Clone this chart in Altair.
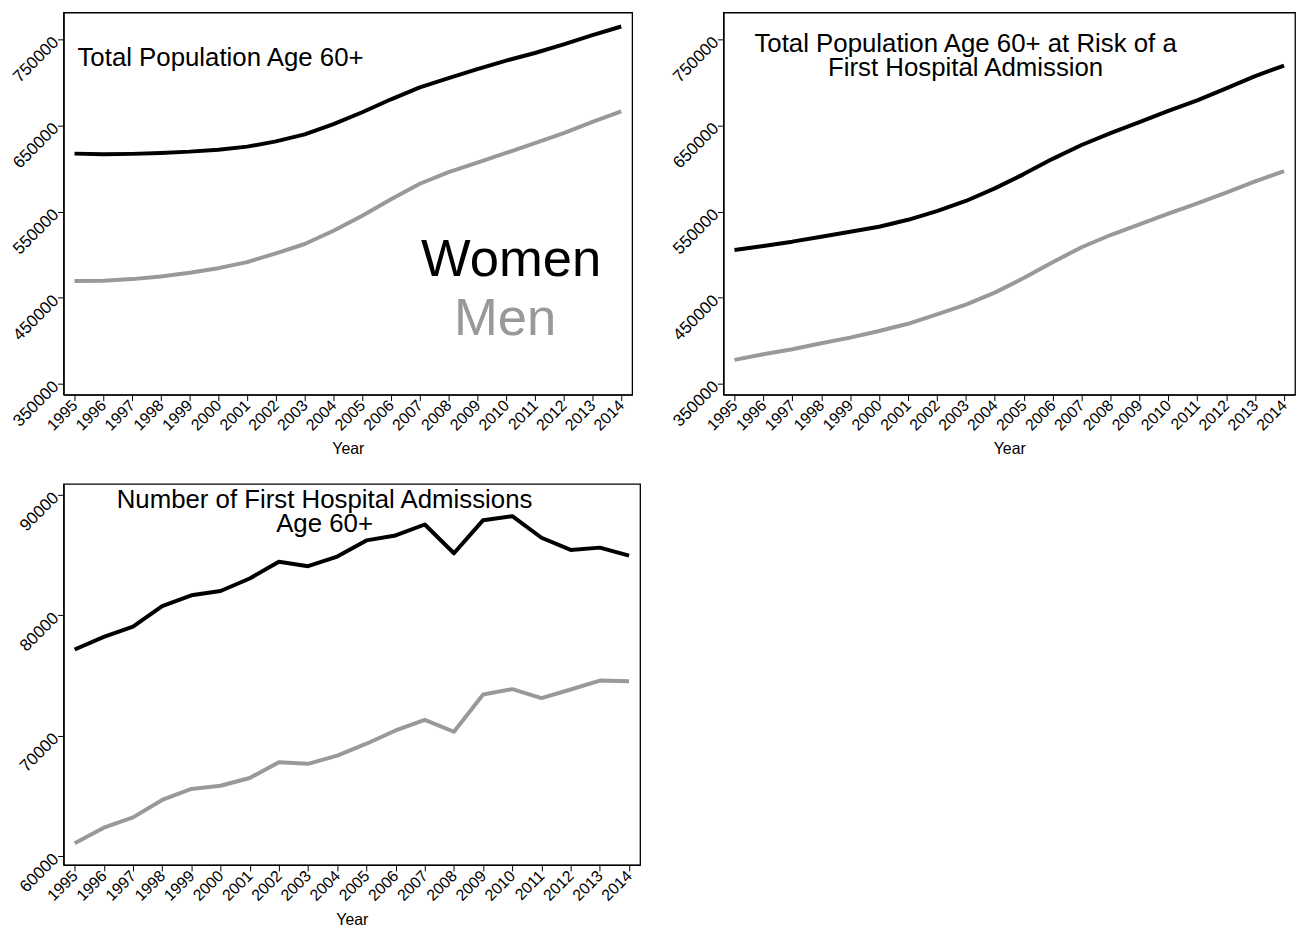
import altair as alt
import pandas as pd

years = list(range(1995, 2015))

pop_women = [617300, 616500, 617000, 618100, 619600, 621900, 625400, 631500, 639600, 651500,
             665400, 680400, 694200, 705000, 715400, 725400, 734200, 744200, 755000, 765000]
pop_men = [469200, 469600, 471500, 474600, 478800, 484200, 491200, 501500, 512300, 527700,
           545000, 564200, 582300, 595800, 606900, 618100, 629600, 641200, 654200, 666500]
risk_women = [505400, 510000, 515000, 520800, 526500, 532300, 540400, 550400, 562300, 576900,
              593500, 611200, 627300, 641200, 653800, 666900, 679200, 693100, 707300, 719600]
risk_men = [377700, 384200, 390000, 396900, 403500, 411200, 419600, 430400, 441900, 455800,
            472700, 491200, 508500, 522700, 535000, 547700, 559600, 571900, 585000, 596900]
adm_women = [77150, 78200, 79050, 80750, 81650, 82010, 83050, 84430, 84070, 84870,
             86210, 86620, 87530, 85140, 87890, 88220, 86430, 85420, 85610, 84950]
adm_men = [61070, 62360, 63210, 64660, 65570, 65840, 66480, 67790, 67660, 68340,
           69330, 70430, 71310, 70320, 73420, 73860, 73120, 73830, 74570, 74520]

pop_ticks = [350000, 450000, 550000, 650000, 750000]
adm_ticks = [60000, 70000, 80000, 90000]

sexes = ["Women", "Men"]
colors = ["#000000", "#999999"]

FONT = "Liberation Sans"


def text_mark(txt, x, y, size, color="#000000", align="center"):
    return alt.Chart(pd.DataFrame({"t": [txt]})).mark_text(
        font=FONT, fontSize=size, color=color, align=align, baseline="alphabetic",
        lineBreak="\n", lineHeight=24
    ).encode(x=alt.value(x), y=alt.value(y), text="t:N")


def panel(women, men, ydomain, yticks, w, h, texts):
    df = pd.DataFrame({
        "Year": years * 2,
        "Value": women + men,
        "Sex": ["Women"] * len(years) + ["Men"] * len(years),
    })
    lines = alt.Chart(df).mark_line(strokeWidth=4, strokeJoin="round").encode(
        x=alt.X("Year:O", scale=alt.Scale(type="point", padding=0.38),
                axis=alt.Axis(title="Year", labelAngle=-45, labelAlign="right",
                              labelBaseline="middle", labelFontSize=16, titleFontSize=16,
                              titleFontWeight="normal", labelPadding=2, titlePadding=8)),
        y=alt.Y("Value:Q", scale=alt.Scale(domain=ydomain, nice=False, zero=False),
                axis=alt.Axis(title=None, values=yticks, format="d", labelAngle=-45,
                              labelAlign="right", labelBaseline="middle", labelFontSize=17,
                              grid=False, labelPadding=2)),
        color=alt.Color("Sex:N", scale=alt.Scale(domain=sexes, range=colors), legend=None),
    )
    layers = [lines] + texts
    return alt.layer(*layers).properties(width=w, height=h)


p1 = panel(pop_women, pop_men, [337300, 781200], pop_ticks, 573, 385, [
    text_mark("Total Population Age 60+", 14, 54, 26, align="left"),
    text_mark("Women", 451, 265, 53),
    text_mark("Men", 445, 325, 53, color="#999999"),
])
p2 = panel(risk_women, risk_men, [337300, 781200], pop_ticks, 576, 385, [
    text_mark("Total Population Age 60+ at Risk of a\nFirst Hospital Admission", 244, 40, 26),
])
p3 = panel(adm_women, adm_men, [59260, 90900], adm_ticks, 581, 384, [
    text_mark("Number of First Hospital Admissions\nAge 60+", 263, 24, 26),
])

chart = alt.concat(p1, p2, p3, columns=2, spacing={"row": 90, "column": 84},
                   bounds="flush").properties(
    padding={"left": 0, "top": 0, "right": 5, "bottom": 5}
).configure(font=FONT).configure_view(
    stroke="#000000", strokeWidth=1.3
).configure_axis(
    domainColor="#000000", tickColor="#000000", labelColor="#000000",
    titleColor="#000000", tickSize=6, domainWidth=1.3, labelFont=FONT, titleFont=FONT
)

chart.save("out.html", embed_options={"renderer": "svg", "actions": False})
